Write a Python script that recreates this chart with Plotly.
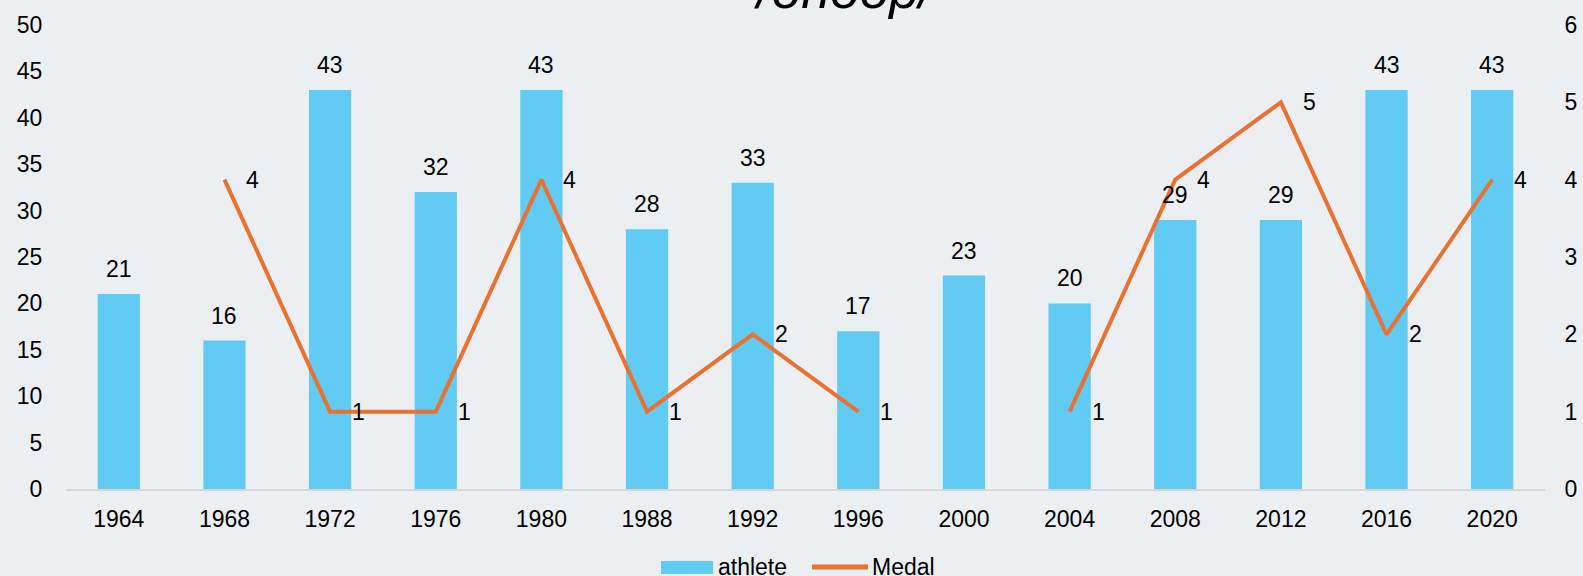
import plotly.graph_objects as go

years = ["1964", "1968", "1972", "1976", "1980", "1988", "1992",
         "1996", "2000", "2004", "2008", "2012", "2016", "2020"]
athletes = [21, 16, 43, 32, 43, 28, 33, 17, 23, 20, 29, 29, 43, 43]
medals = [None, 4, 1, 1, 4, 1, 2, 1, None, 1, 4, 5, 2, 4]

BAR = "#61CBF3"
LINE = "#E97132"
BG = "#EBEFF2"
FONT = "Liberation Sans, Arial, sans-serif"
FS = 23

fig = go.Figure()

fig.add_trace(go.Bar(
    x=years, y=athletes, name="athlete",
    marker=dict(color=BAR, line=dict(width=0)),
    width=0.4,
))

fig.add_trace(go.Scatter(
    x=years, y=medals, name="Medal", yaxis="y2",
    mode="lines",
    line=dict(color=LINE, width=4),
    connectgaps=False,
))

# athlete labels above the bars
for i, a in enumerate(athletes):
    fig.add_annotation(
        x=i, y=a, xref="x", yref="y",
        text=str(a), showarrow=False,
        yanchor="bottom", yshift=10,
        font=dict(size=FS, color="#000000"),
    )

# medal labels to the right of the points
for i, m in enumerate(medals):
    if m is None:
        continue
    fig.add_annotation(
        x=i, y=m, xref="x", yref="y2",
        text=str(m), showarrow=False,
        xanchor="left", xshift=20,
        font=dict(size=FS, color="#000000"),
    )

# title, mostly above the visible page
fig.add_annotation(
    x=0.528, y=1.0095, xref="paper", yref="paper",
    text="<i>/оноор/</i>", showarrow=False,
    xanchor="center", yanchor="bottom",
    font=dict(size=53, color="#000000", family=FONT),
)

# hand-drawn legend (wide swatches like the reference)
fig.add_shape(type="rect", xref="paper", yref="paper",
              x0=0.4023, x1=0.4375, y0=-0.1832, y1=-0.1552,
              fillcolor=BAR, line=dict(width=0))
fig.add_shape(type="line", xref="paper", yref="paper",
              x0=0.5044, x1=0.5423, y0=-0.1681, y1=-0.1681,
              line=dict(color=LINE, width=5))
fig.add_annotation(x=0.4395, y=-0.1996, xref="paper", yref="paper",
                   text="athlete", showarrow=False, xanchor="left",
                   yanchor="bottom", font=dict(size=FS, color="#000000"))
fig.add_annotation(x=0.5436, y=-0.1996, xref="paper", yref="paper",
                   text="Medal", showarrow=False, xanchor="left",
                   yanchor="bottom", font=dict(size=FS, color="#000000"))

fig.update_layout(
    width=1583, height=576,
    paper_bgcolor=BG, plot_bgcolor=BG,
    font=dict(family=FONT, size=FS, color="#000000"),
    margin=dict(l=66, r=38, t=25, b=87, autoexpand=False),
    showlegend=False,
    xaxis=dict(type="category", range=[-0.5, 13.5], showgrid=False,
               showline=True, linecolor="#D4D7DA", linewidth=2,
               ticks="outside", ticklen=8, tickcolor=BG,
               tickfont=dict(size=FS), automargin=False),
    yaxis=dict(range=[0, 50], dtick=5, showgrid=False, zeroline=False,
               showline=False, ticks="outside", ticklen=18, tickcolor=BG,
               tickfont=dict(size=FS), automargin=False),
    yaxis2=dict(range=[0, 6], dtick=1, overlaying="y", side="right",
                showgrid=False, zeroline=False, showline=False,
                ticks="outside", ticklen=14, tickcolor=BG,
                tickfont=dict(size=FS), automargin=False),
)

fig.write_html("out.html", config={"displayModeBar": False},
               post_script="document.body.style.margin='0';")
